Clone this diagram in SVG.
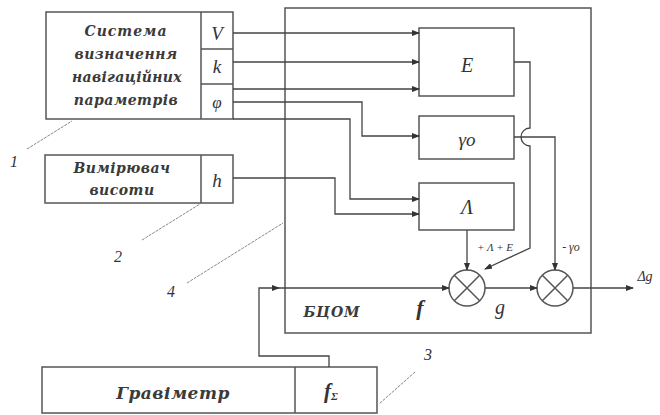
<svg xmlns="http://www.w3.org/2000/svg" width="660" height="415" viewBox="0 0 660 415">
<defs>
<marker id="ah" markerWidth="8" markerHeight="6" refX="7" refY="3" orient="auto" markerUnits="userSpaceOnUse">
<path d="M0,0 L8,3 L0,6 Z" fill="#333"/>
</marker>
<style>
.b{fill:none;stroke:#555;stroke-width:1.5}
.c{fill:none;stroke:#444;stroke-width:1.3}
.l{fill:none;stroke:#888;stroke-width:1;stroke-dasharray:3,1}
.t{font-family:"DejaVu Serif","Liberation Serif",serif;font-style:italic;font-weight:bold;fill:#3a3a3a;text-anchor:middle}
.m{font-family:"Liberation Serif",serif;font-style:italic;fill:#333;text-anchor:middle}
</style>
</defs>
<rect width="660" height="415" fill="#fff"/>

<g id="bcom">
<rect class="b" x="285" y="8" width="306" height="325"/>
<text class="t" x="332" y="317" font-size="14" letter-spacing="1">БЦОМ</text>
<text class="m" x="420" y="315" font-size="22" font-weight="bold">f</text>
<text class="m" x="500" y="314" font-size="20">g</text>
</g>

<g id="nav">
<rect class="b" x="46" y="12" width="187" height="107"/>
<line class="b" x1="201" y1="12" x2="201" y2="119"/>
<line class="b" x1="201" y1="49" x2="233" y2="49"/>
<line class="b" x1="201" y1="84" x2="233" y2="84"/>
<text class="t" x="126" y="36" font-size="14" letter-spacing="1">Система</text>
<text class="t" x="126" y="59" font-size="14" letter-spacing="0.5">визначення</text>
<text class="t" x="127" y="82" font-size="14" letter-spacing="0.3">навігаційних</text>
<text class="t" x="126" y="105" font-size="14" letter-spacing="0.5">параметрів</text>
<text class="m" x="217" y="40" font-size="19">V</text>
<text class="m" x="217" y="73" font-size="19">k</text>
<text class="m" x="217" y="108" font-size="17">φ</text>
</g>

<g id="altimeter">
<rect class="b" x="45" y="155" width="188" height="48"/>
<line class="b" x1="201" y1="155" x2="201" y2="203"/>
<text class="t" x="122" y="173" font-size="14" letter-spacing="0.5">Вимірювач</text>
<text class="t" x="122" y="195" font-size="14" letter-spacing="0.5">висоти</text>
<text class="m" x="217" y="187" font-size="19">h</text>
</g>

<g id="gravimeter">
<rect class="b" x="42" y="367" width="335" height="46"/>
<line class="b" x1="295" y1="367" x2="295" y2="413"/>
<text class="t" x="173" y="399" font-size="17" letter-spacing="0.5">Гравіметр</text>
<text class="m" x="331" y="398" font-size="21" font-weight="bold">f<tspan font-size="11" dy="2">Σ</tspan></text>
</g>

<g id="E">
<rect class="b" x="419" y="28" width="95" height="68"/>
<text class="m" x="467" y="72" font-size="20">E</text>
</g>
<g id="gamma">
<rect class="b" x="419" y="116" width="95" height="43"/>
<text class="m" x="467" y="146" font-size="19">γo</text>
</g>
<g id="lambda">
<rect class="b" x="419" y="183" width="95" height="47"/>
<text class="m" x="467" y="214" font-size="20">Λ</text>
</g>
<g id="sum1">
<circle class="b" cx="467" cy="288" r="18"/>
<path class="b" d="M454.3,275.3 L479.7,300.7 M479.7,275.3 L454.3,300.7"/>
</g>
<g id="sum2">
<circle class="b" cx="555" cy="288" r="18"/>
<path class="b" d="M542.3,275.3 L567.7,300.7 M567.7,275.3 L542.3,300.7"/>
</g>

<g id="connectors">
<line class="c" x1="233" y1="33" x2="419" y2="33" marker-end="url(#ah)"/>
<line class="c" x1="233" y1="62" x2="419" y2="62" marker-end="url(#ah)"/>
<line class="c" x1="233" y1="89" x2="419" y2="89" marker-end="url(#ah)"/>
<path class="c" d="M233,102 H362 V136 H419" marker-end="url(#ah)"/>
<path class="c" d="M233,119 H350 V199 H419" marker-end="url(#ah)"/>
<path class="c" d="M233,178 H335 V214 H419" marker-end="url(#ah)"/>
<path class="c" d="M514,62 H530 V128 A9,9 0 0 0 530,146 V248 L485,269" marker-end="url(#ah)"/>
<path class="c" d="M514,137 H555 V270" marker-end="url(#ah)"/>
<line class="c" x1="467" y1="230" x2="467" y2="270" marker-end="url(#ah)"/>
<path class="c" d="M329,367 V356 H259 V288 H279" marker-end="url(#ah)"/>
<line class="c" x1="278" y1="288" x2="449" y2="288" marker-end="url(#ah)"/>
<line class="c" x1="485" y1="288" x2="537" y2="288" marker-end="url(#ah)"/>
<line class="c" x1="573" y1="288" x2="633" y2="288" marker-end="url(#ah)"/>
<text class="m" x="495" y="251" font-size="11">+ Λ + E</text>
<text class="m" x="571" y="251" font-size="12">- γo</text>
<text class="m" x="645" y="281" font-size="14">Δg</text>
</g>

<g id="labels">
<line class="l" x1="27" y1="149" x2="72" y2="121"/>
<line class="l" x1="142" y1="240" x2="200" y2="204"/>
<line class="l" x1="187" y1="283" x2="283" y2="223"/>
<line class="l" x1="415" y1="372" x2="379" y2="404"/>
<text class="m" x="14" y="167" font-size="16">1</text>
<text class="m" x="118" y="262" font-size="16">2</text>
<text class="m" x="171" y="297" font-size="16">4</text>
<text class="m" x="428" y="360" font-size="16">3</text>
</g>
</svg>
